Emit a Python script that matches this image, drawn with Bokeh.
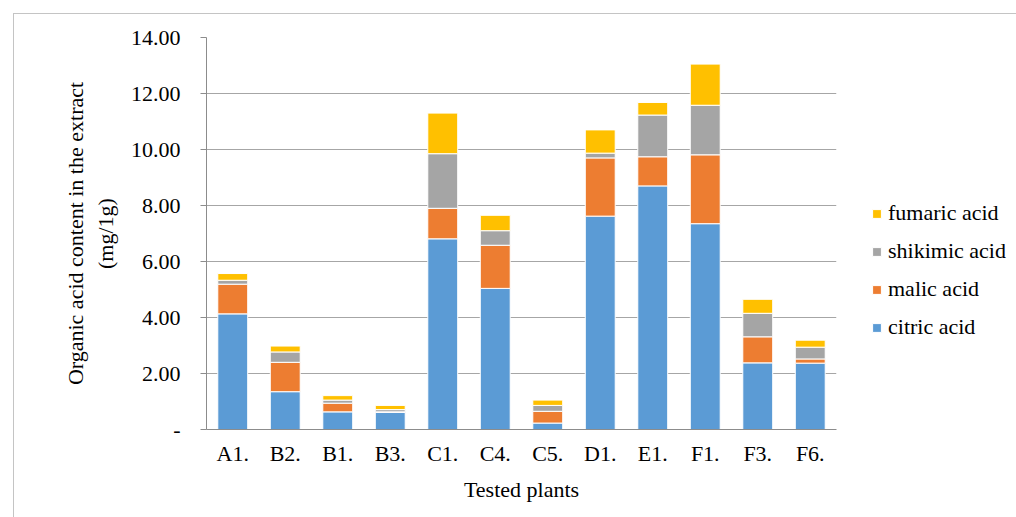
from bokeh.plotting import figure
from bokeh.models import (FactorRange, Range1d, FixedTicker, Legend, LegendItem)
from bokeh.embed import file_html
from bokeh.resources import INLINE

# Organic acid content (mg/1g) per tested plant, stacked by acid
plants = ["A1.", "B2.", "B1.", "B3.", "C1.", "C4.", "C5.", "D1.", "E1.", "F1.", "F3.", "F6."]
citric_acid = [4.13, 1.35, 0.63, 0.61, 6.81, 5.04, 0.23, 7.62, 8.70, 7.35, 2.38, 2.37]
malic_acid = [1.06, 1.05, 0.31, 0.02, 1.09, 1.54, 0.42, 2.08, 1.04, 2.46, 0.93, 0.15]
shikimic_acid = [0.14, 0.37, 0.11, 0.08, 1.95, 0.52, 0.21, 0.17, 1.49, 1.77, 0.84, 0.42]
fumaric_acid = [0.24, 0.21, 0.16, 0.15, 1.45, 0.55, 0.19, 0.83, 0.45, 1.47, 0.50, 0.25]

series_names = ["citric acid", "malic acid", "shikimic acid", "fumaric acid"]
series_keys = ["citric", "malic", "shikimic", "fumaric"]
series_colors = ["#5B9BD5", "#ED7D31", "#A5A5A5", "#FFC000"]

y_ticks = [0, 2, 4, 6, 8, 10, 12, 14]
y_tick_labels = ["-", "2.00", "4.00", "6.00", "8.00", "10.00", "12.00", "14.00"]

FONT = "Liberation Serif"
TEXT = "#000000"
GRID = "#a6a6a6"
AXIS = "#8c8c8c"
FS = "22px"

source = dict(plants=plants, citric=citric_acid, malic=malic_acid,
              shikimic=shikimic_acid, fumaric=fumaric_acid)

p = figure(
    x_range=FactorRange(*plants, range_padding=0),
    y_range=Range1d(0, 14),
    frame_width=630, frame_height=392,
    min_border_left=192, min_border_right=170,
    min_border_top=23, min_border_bottom=88,
    output_backend="svg", toolbar_location=None,
    margin=(13, 0, 0, 13),
    styles={"border-left": "1px solid #c4c4c4", "border-top": "1px solid #c4c4c4"},
)
p.outline_line_color = None
p.background_fill_color = "white"
p.border_fill_color = "white"

renderers = p.vbar_stack(series_keys, x="plants", width=0.57, source=source,
                         color=series_colors, line_color="white", line_width=1)

# grid
p.xgrid.grid_line_color = None
p.ygrid.grid_line_color = GRID
p.ygrid.grid_line_width = 1
p.ygrid.ticker = FixedTicker(ticks=y_ticks)

# y axis
p.yaxis.ticker = FixedTicker(ticks=y_ticks)
p.yaxis.major_label_overrides = {t: lab for t, lab in zip(y_ticks, y_tick_labels)}
p.yaxis.axis_line_color = AXIS
p.yaxis.major_tick_line_color = AXIS
p.yaxis.major_tick_out = 6
p.yaxis.major_tick_in = 0
p.yaxis.minor_tick_line_color = None
p.yaxis.major_label_standoff = 20
p.yaxis.major_label_text_font = FONT
p.yaxis.major_label_text_font_size = FS
p.yaxis.major_label_text_color = TEXT
p.yaxis.axis_label = "Organic acid content in the extract\n(mg/1g)"
p.yaxis.axis_label_text_font = FONT
p.yaxis.axis_label_text_font_size = FS
p.yaxis.axis_label_text_font_style = "normal"
p.yaxis.axis_label_text_color = TEXT
p.yaxis.axis_label_standoff = 10

# x axis
p.xaxis.axis_line_color = AXIS
p.xaxis.major_tick_line_color = None
p.xaxis.major_tick_out = 0
p.xaxis.major_tick_in = 0
p.xaxis.minor_tick_line_color = None
p.xaxis.major_label_standoff = 11
p.xaxis.major_label_text_font = FONT
p.xaxis.major_label_text_font_size = FS
p.xaxis.major_label_text_color = TEXT
p.xaxis.axis_label = "Tested plants"
p.xaxis.axis_label_text_font = FONT
p.xaxis.axis_label_text_font_size = FS
p.xaxis.axis_label_text_font_style = "normal"
p.xaxis.axis_label_text_color = TEXT
p.xaxis.axis_label_standoff = 8

# legend in the right panel, top entry is the top of the stack
items = [LegendItem(label=name, renderers=[r]) for name, r in zip(series_names, renderers)]
legend = Legend(items=list(reversed(items)), location=(35, 89),
                glyph_width=11, glyph_height=11, label_height=24, spacing=12,
                label_standoff=6, padding=0, margin=0,
                border_line_color=None, background_fill_alpha=0)
legend.label_text_font = "Times New Roman"
legend.label_text_font_size = FS
legend.label_text_color = TEXT
p.add_layout(legend, "right")

open("out.html", "w").write(file_html(p, INLINE))
